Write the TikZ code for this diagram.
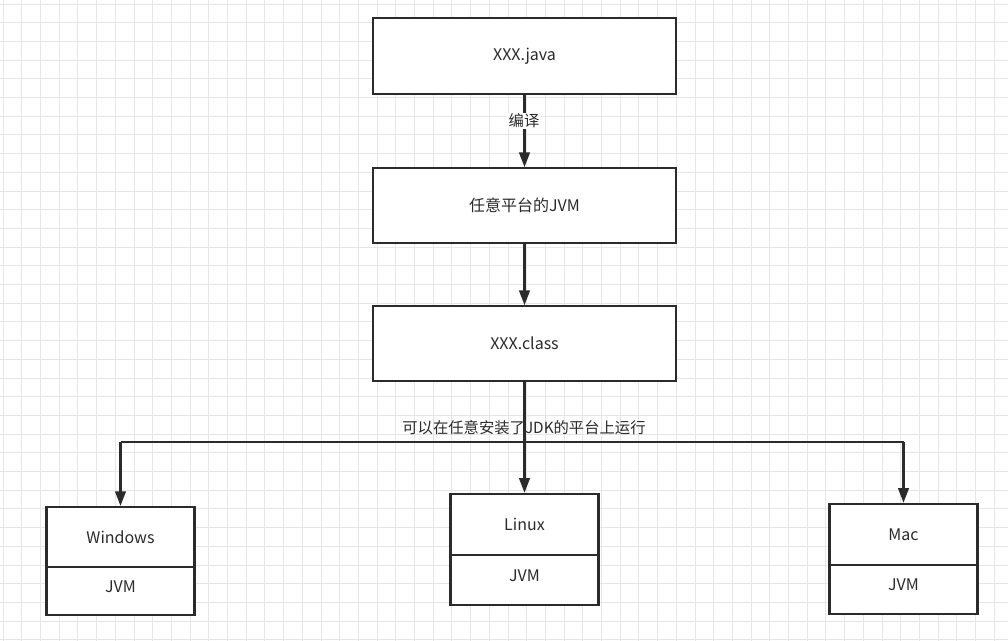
\documentclass[tikz,border=0pt]{standalone}
\usepackage{fontspec}
\setmainfont{Noto Sans CJK SC}
\usetikzlibrary{arrows.meta}
\definecolor{ink}{HTML}{2B2B2B}
\definecolor{gridc}{HTML}{E6E6E6}
\begin{document}
\begin{tikzpicture}[x=0.75pt,y=-0.75pt,
  box/.style={draw=ink,line width=1.6pt,fill=white,font=\fontsize{12}{14}\selectfont,text=ink},
  wire/.style={draw=ink,line width=1.6pt},
  arr/.style={wire,-{Triangle[length=11pt,width=8pt]}},
  lbl/.style={font=\fontsize{11.5}{13}\selectfont,text=ink}]
\useasboundingbox (0,0) rectangle (1008,641);
\fill[white] (0,0) rectangle (1008,641);
\foreach \i in {0,...,55} {
  \draw[gridc,line width=0.6pt] (\i*18.7+3,0) -- (\i*18.7+3,641);
}
\foreach \j in {0,...,35} {
  \draw[gridc,line width=0.6pt] (0,\j*18.7+4) -- (1008,\j*18.7+4);
}
% main chain
\node[box,minimum width=227pt,minimum height=57pt] (java) at (524.5,56) {XXX.java};
\node[box,minimum width=227pt,minimum height=56pt] (jvm) at (524.5,205.5) {任意平台的JVM};
\node[box,minimum width=227pt,minimum height=56pt] (cls) at (524.5,343.5) {XXX.class};
\draw[arr] (java) -- (jvm);
\node[lbl,fill=white,inner sep=1pt] at (524,121) {编译};
\draw[arr] (jvm) -- (cls);
% platforms
\node[box,minimum width=111pt,minimum height=45pt] (win) at (120.5,537) {Windows};
\node[box,minimum width=111pt,minimum height=36pt,text depth=7pt] (winj) at (120.5,591) {JVM};
\node[box,minimum width=111pt,minimum height=46pt] (lin) at (524.5,524.5) {Linux};
\node[box,minimum width=111pt,minimum height=37.5pt,text depth=7pt] (linj) at (524.5,580) {JVM};
\node[box,minimum width=111pt,minimum height=46pt] (mac) at (903.5,534.5) {Mac};
\node[box,minimum width=111pt,minimum height=37pt,text depth=7pt] (macj) at (903.5,589.5) {JVM};
\coordinate (hl) at (120.5,442);
\coordinate (hr) at (903.5,442);
\draw[wire] (hl) -- (hr);
\draw[arr] (hl) -- (win);
\draw[arr] (hr) -- (mac);
\draw[arr] (cls) -- (lin);
\node[lbl] at (524,428) {可以在任意安装了JDK的平台上运行};
\end{tikzpicture}
\end{document}
